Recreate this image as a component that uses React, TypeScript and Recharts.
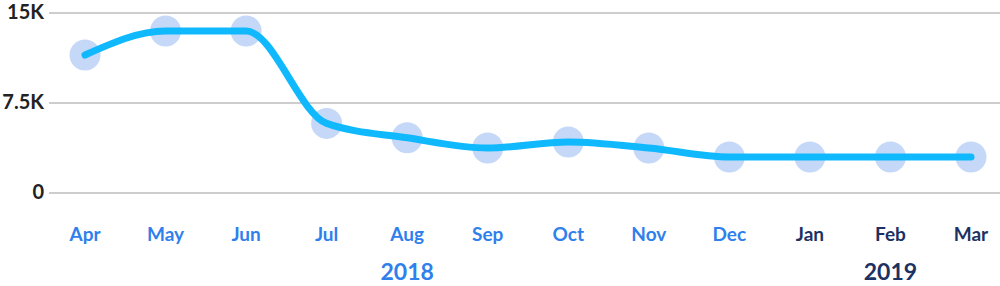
import { LineChart, Line, XAxis, YAxis, CartesianGrid } from 'recharts'

const months = ['Apr', 'May', 'Jun', 'Jul', 'Aug', 'Sep', 'Oct', 'Nov', 'Dec', 'Jan', 'Feb', 'Mar']
const years = ['2018', '2018', '2018', '2018', '2018', '2018', '2018', '2018', '2018', '2019', '2019', '2019']
const values = [11500, 13500, 13500, 5800, 4600, 3750, 4250, 3750, 3000, 3000, 3000, 3000]
const yTicks = [0, 7500, 15000]
// year caption sits under these months
const yearLabelAt = ['Aug', 'Feb']

const data = months.map((m, i) => ({ month: m, year: years[i], value: values[i] }))

const BLUE = '#2f7fec'
const NAVY = '#1b3263'
const FONT = 'Lato, "Open Sans", sans-serif'

function MonthTick(props: any) {
  const { x, y, payload, index } = props
  const year = years[index]
  const color = year === '2019' ? NAVY : BLUE
  return (
    <g>
      <text x={x} y={y} dy={40} textAnchor="middle" fill={color} fontSize={19} fontWeight={700} fontFamily={FONT}>
        {payload.value}
      </text>
      {yearLabelAt.includes(payload.value) && (
        <text x={x} y={280} textAnchor="middle" fill={color} fontSize={23} fontWeight={700} fontFamily={FONT}>
          {year}
        </text>
      )}
    </g>
  )
}

function ValueTick(props: any) {
  const { x, y, payload } = props
  const v = payload.value
  const label = v === 0 ? '0' : `${v / 1000}K`
  return (
    <text x={x + 3} y={y} dy={6} textAnchor="end" fill="#222" fontSize={20} fontWeight={700} fontFamily={FONT}>
      {label}
    </text>
  )
}

export default function App() {
  return (
    <div>
      <style>{'body{margin:0}'}</style>
      <LineChart width={1000} height={286} data={data} margin={{ top: 13, right: 0, bottom: 0, left: 0 }}>
        <CartesianGrid vertical={false} stroke="#bdbdbd" strokeWidth={1.5} />
        <XAxis
          dataKey="month"
          axisLine={false}
          tickLine={false}
          height={93}
          interval={0}
          padding={{ left: 36, right: 29 }}
          tick={<MonthTick />}
        />
        <YAxis
          domain={[0, 15000]}
          ticks={yTicks}
          axisLine={false}
          tickLine={false}
          width={49}
          tick={<ValueTick />}
        />
        <Line
          dataKey="value"
          stroke="none"
          dot={{ r: 15.5, fill: '#c6d8f7', stroke: 'none' }}
          activeDot={false}
          isAnimationActive={false}
        />
        <Line
          type="monotone"
          dataKey="value"
          stroke="#10b9fe"
          strokeWidth={7}
          strokeLinecap="round"
          dot={false}
          activeDot={false}
          zIndex={700}
          isAnimationActive={false}
        />
      </LineChart>
    </div>
  )
}
